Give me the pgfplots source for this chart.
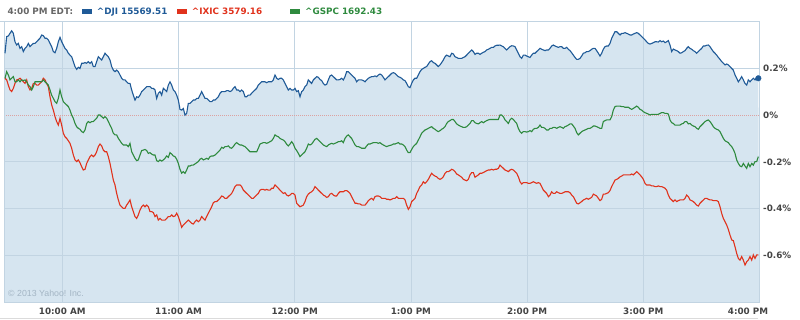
\documentclass[border=0pt]{standalone}
\usepackage{pgfplots}
\pgfplotsset{compat=1.18}
\usepackage{pgfplotstable}
\usepackage{fontspec}
\setmainfont{DejaVu Sans}
\newfontfamily\arialfont{Liberation Sans}
\definecolor{djic}{HTML}{1F5A97}
\definecolor{ixicc}{HTML}{E0321C}
\definecolor{gspcc}{HTML}{2E8A3E}
\definecolor{fillc}{HTML}{D6E5F0}
\definecolor{gridc}{HTML}{C2D4E2}
\definecolor{zeroc}{HTML}{DCA2A2}
\definecolor{hdrgray}{HTML}{666666}
\definecolor{lblc}{HTML}{444444}
\definecolor{copyc}{HTML}{A3B5C4}

% percent change vs previous close, one sample every ~0.86 min from 9:30
\pgfplotstableread[row sep=\\]{y\\
0.264\\0.335\\0.338\\0.349\\0.360\\0.349\\0.313\\0.299\\0.306\\0.285\\0.292\\0.271\\0.285\\0.292\\0.306\\0.292\\0.299\\0.306\\0.306\\0.313\\
0.321\\0.328\\0.342\\0.339\\0.328\\0.328\\0.321\\0.306\\0.292\\0.271\\0.266\\0.285\\0.313\\0.332\\0.313\\0.299\\0.285\\0.278\\0.264\\0.256\\
0.249\\0.228\\0.207\\0.195\\0.204\\0.199\\0.221\\0.221\\0.224\\0.221\\0.228\\0.221\\0.228\\0.207\\0.207\\0.228\\0.249\\0.242\\0.235\\0.249\\
0.264\\0.256\\0.249\\0.235\\0.207\\0.192\\0.185\\0.192\\0.185\\0.171\\0.157\\0.150\\
0.150\\0.142\\0.135\\0.135\\0.107\\0.085\\0.064\\0.078\\0.075\\0.085\\0.100\\0.107\\0.114\\0.121\\0.121\\0.121\\0.114\\0.114\\0.107\\0.071\\
0.093\\0.100\\0.085\\0.114\\0.107\\0.100\\0.128\\0.142\\0.128\\0.107\\0.100\\0.085\\0.064\\0.024\\0.021\\0.028\\0.000\\0.007\\0.050\\0.050\\
0.057\\0.064\\0.064\\0.071\\0.071\\0.085\\0.100\\0.085\\0.071\\0.071\\0.064\\0.057\\0.057\\0.064\\0.064\\0.071\\0.078\\0.093\\0.100\\0.100\\
0.100\\0.104\\0.104\\0.100\\0.104\\0.114\\0.121\\0.107\\0.107\\0.100\\0.107\\0.100\\0.078\\0.078\\0.085\\
0.085\\0.093\\0.100\\0.107\\0.114\\0.128\\0.135\\0.142\\0.142\\0.142\\0.138\\0.142\\0.142\\0.142\\0.150\\0.171\\0.157\\0.152\\0.157\\0.157\\
0.150\\0.135\\0.121\\0.107\\0.114\\0.107\\0.107\\0.114\\0.100\\0.104\\0.078\\0.100\\0.107\\0.121\\0.128\\0.150\\0.142\\0.135\\0.150\\0.157\\
0.164\\0.161\\0.152\\0.147\\0.135\\0.128\\0.131\\0.150\\0.167\\0.171\\0.164\\0.157\\0.150\\0.150\\0.152\\0.157\\0.150\\0.164\\0.185\\0.185\\
0.178\\0.171\\0.164\\0.157\\0.142\\0.150\\0.150\\0.150\\0.147\\0.142\\0.150\\0.157\\0.161\\0.164\\0.164\\
0.167\\0.164\\0.171\\0.175\\0.171\\0.161\\0.150\\0.157\\0.164\\0.171\\0.178\\0.181\\0.178\\0.171\\0.164\\0.161\\0.157\\0.150\\0.147\\0.135\\
0.121\\0.117\\0.135\\0.150\\0.157\\0.157\\0.171\\0.185\\0.195\\0.199\\0.204\\0.207\\0.218\\0.228\\0.232\\0.224\\0.221\\0.214\\0.207\\0.214\\
0.224\\0.235\\0.249\\0.256\\0.252\\0.249\\0.264\\0.261\\0.249\\0.246\\0.242\\0.242\\0.242\\0.246\\0.249\\0.256\\0.264\\0.271\\0.278\\0.271\\
0.259\\0.264\\0.264\\0.259\\0.264\\0.268\\0.271\\0.278\\0.281\\0.285\\0.289\\0.289\\0.295\\0.298\\0.298\\
0.299\\0.295\\0.292\\0.285\\0.278\\0.285\\0.292\\0.296\\0.295\\0.292\\0.278\\0.264\\0.249\\0.242\\0.256\\0.256\\0.252\\0.249\\0.246\\0.256\\
0.264\\0.264\\0.271\\0.278\\0.285\\0.281\\0.278\\0.275\\0.278\\0.278\\0.285\\0.295\\0.299\\0.295\\0.292\\0.289\\0.292\\0.292\\0.285\\0.285\\
0.289\\0.281\\0.275\\0.266\\0.256\\0.246\\0.238\\0.238\\0.242\\0.252\\0.264\\0.266\\0.271\\0.271\\0.275\\0.281\\0.285\\0.285\\0.275\\0.264\\
0.252\\0.264\\0.281\\0.292\\0.295\\0.295\\0.306\\0.328\\0.342\\0.356\\0.356\\0.349\\0.342\\0.349\\0.349\\
0.352\\0.349\\0.346\\0.342\\0.342\\0.346\\0.349\\0.352\\0.349\\0.342\\0.335\\0.328\\0.321\\0.313\\0.306\\0.303\\0.306\\0.309\\0.313\\0.313\\
0.312\\0.318\\0.313\\0.316\\0.309\\0.313\\0.318\\0.299\\0.271\\0.282\\0.278\\0.275\\0.271\\0.264\\0.266\\0.271\\0.275\\0.285\\0.292\\0.285\\
0.281\\0.275\\0.271\\0.264\\0.271\\0.278\\0.285\\0.295\\0.295\\0.298\\0.299\\0.292\\0.281\\0.271\\0.264\\0.256\\0.246\\0.238\\0.228\\0.221\\
0.214\\0.218\\0.214\\0.207\\0.199\\0.192\\0.171\\0.157\\0.142\\0.152\\0.164\\0.150\\0.135\\0.128\\0.150\\0.142\\0.150\\0.157\\0.150\\0.161\\
0.157\\
}\djidata

\pgfplotstableread[row sep=\\]{y\\
0.157\\0.185\\0.171\\0.150\\0.157\\0.164\\0.142\\0.142\\0.150\\0.142\\0.150\\0.147\\0.150\\0.142\\0.128\\0.121\\0.107\\0.121\\0.142\\0.142\\
0.142\\0.142\\0.142\\0.150\\0.142\\0.135\\0.128\\0.107\\0.085\\0.071\\0.057\\0.050\\0.071\\0.107\\0.078\\0.057\\0.050\\0.043\\0.036\\0.021\\
0.000\\-0.014\\-0.036\\-0.050\\-0.057\\-0.061\\-0.071\\-0.075\\-0.064\\-0.036\\-0.028\\-0.033\\-0.028\\-0.028\\-0.021\\-0.014\\0.000\\0.000\\-0.007\\-0.014\\
-0.007\\-0.014\\-0.028\\-0.043\\-0.057\\-0.078\\-0.085\\-0.085\\-0.100\\-0.110\\-0.121\\-0.128\\
-0.128\\-0.128\\-0.135\\-0.121\\-0.157\\-0.171\\-0.185\\-0.195\\-0.192\\-0.171\\-0.152\\-0.150\\-0.147\\-0.152\\-0.164\\-0.161\\-0.167\\-0.171\\-0.171\\-0.195\\
-0.199\\-0.192\\-0.197\\-0.192\\-0.185\\-0.175\\-0.181\\-0.161\\-0.167\\-0.175\\-0.178\\-0.189\\-0.207\\-0.232\\-0.249\\-0.242\\-0.249\\-0.235\\-0.218\\-0.218\\
-0.214\\-0.214\\-0.209\\-0.204\\-0.199\\-0.189\\-0.185\\-0.192\\-0.189\\-0.185\\-0.189\\-0.178\\-0.175\\-0.175\\-0.171\\-0.164\\-0.157\\-0.150\\-0.138\\-0.142\\
-0.135\\-0.135\\-0.132\\-0.140\\-0.142\\-0.135\\-0.124\\-0.118\\-0.124\\-0.128\\-0.128\\-0.132\\-0.135\\-0.142\\-0.150\\
-0.157\\-0.157\\-0.157\\-0.157\\-0.157\\-0.142\\-0.124\\-0.121\\-0.118\\-0.118\\-0.121\\-0.118\\-0.114\\-0.110\\-0.100\\-0.085\\-0.090\\-0.093\\-0.100\\-0.104\\
-0.107\\-0.114\\-0.125\\-0.132\\-0.124\\-0.114\\-0.124\\-0.142\\-0.152\\-0.164\\-0.178\\-0.171\\-0.164\\-0.157\\-0.142\\-0.124\\-0.128\\-0.124\\-0.114\\-0.104\\
-0.100\\-0.107\\-0.114\\-0.121\\-0.128\\-0.132\\-0.135\\-0.128\\-0.124\\-0.121\\-0.124\\-0.121\\-0.118\\-0.114\\-0.114\\-0.110\\-0.118\\-0.100\\-0.090\\-0.085\\
-0.093\\-0.100\\-0.114\\-0.128\\-0.135\\-0.135\\-0.138\\-0.142\\-0.142\\-0.142\\-0.132\\-0.124\\-0.124\\-0.121\\-0.118\\
-0.118\\-0.118\\-0.121\\-0.118\\-0.124\\-0.128\\-0.132\\-0.135\\-0.132\\-0.130\\-0.128\\-0.124\\-0.124\\-0.121\\-0.118\\-0.124\\-0.124\\-0.128\\-0.135\\-0.150\\
-0.161\\-0.161\\-0.147\\-0.135\\-0.128\\-0.121\\-0.107\\-0.093\\-0.078\\-0.071\\-0.064\\-0.061\\-0.057\\-0.053\\-0.050\\-0.057\\-0.061\\-0.067\\-0.071\\-0.067\\
-0.061\\-0.057\\-0.050\\-0.036\\-0.028\\-0.024\\-0.019\\-0.019\\-0.028\\-0.038\\-0.043\\-0.047\\-0.050\\-0.053\\-0.053\\-0.050\\-0.043\\-0.036\\-0.024\\-0.024\\
-0.033\\-0.036\\-0.038\\-0.033\\-0.028\\-0.033\\-0.028\\-0.024\\-0.021\\-0.019\\-0.019\\-0.019\\-0.019\\-0.019\\-0.019\\
0.000\\0.000\\-0.007\\-0.021\\-0.028\\-0.036\\-0.021\\-0.014\\-0.019\\-0.028\\-0.036\\-0.057\\-0.071\\-0.078\\-0.071\\-0.071\\-0.073\\-0.071\\-0.067\\-0.071\\
-0.061\\-0.057\\-0.057\\-0.053\\-0.043\\-0.053\\-0.053\\-0.057\\-0.064\\-0.064\\-0.057\\-0.057\\-0.053\\-0.053\\-0.057\\-0.053\\-0.050\\-0.053\\-0.057\\-0.050\\
-0.047\\-0.043\\-0.038\\-0.038\\-0.047\\-0.057\\-0.075\\-0.085\\-0.078\\-0.071\\-0.067\\-0.064\\-0.061\\-0.057\\-0.057\\-0.053\\-0.047\\-0.047\\-0.050\\-0.053\\
-0.057\\-0.057\\-0.028\\-0.024\\-0.021\\-0.021\\-0.021\\-0.007\\0.021\\0.036\\0.038\\0.038\\0.038\\0.036\\0.036\\
0.033\\0.033\\0.033\\0.028\\0.024\\0.028\\0.033\\0.038\\0.033\\0.024\\0.021\\0.014\\0.010\\0.007\\0.004\\0.000\\0.003\\0.003\\0.003\\0.003\\
0.003\\0.007\\0.010\\0.010\\0.007\\0.007\\0.004\\-0.021\\-0.033\\-0.036\\-0.043\\-0.043\\-0.043\\-0.043\\-0.038\\-0.036\\-0.028\\-0.028\\-0.038\\-0.036\\
-0.043\\-0.047\\-0.050\\-0.057\\-0.061\\-0.050\\-0.043\\-0.036\\-0.028\\-0.024\\-0.021\\-0.028\\-0.038\\-0.050\\-0.057\\-0.061\\-0.064\\-0.071\\-0.085\\-0.100\\
-0.110\\-0.114\\-0.118\\-0.128\\-0.135\\-0.147\\-0.164\\-0.192\\-0.207\\-0.218\\-0.221\\-0.207\\-0.218\\-0.228\\-0.207\\-0.221\\-0.207\\-0.214\\-0.199\\-0.199\\
-0.178\\
}\gspcdata

\pgfplotstableread[row sep=\\]{y\\
0.157\\0.150\\0.128\\0.107\\0.100\\0.114\\0.135\\0.150\\0.152\\0.157\\0.150\\0.142\\0.135\\0.150\\0.121\\0.107\\0.114\\0.135\\0.135\\0.128\\
0.128\\0.135\\0.142\\0.157\\0.150\\0.135\\0.121\\0.078\\0.043\\0.021\\-0.007\\-0.028\\-0.043\\-0.014\\-0.043\\-0.078\\-0.093\\-0.100\\-0.110\\-0.121\\
-0.142\\-0.171\\-0.192\\-0.199\\-0.192\\-0.204\\-0.221\\-0.235\\-0.232\\-0.207\\-0.192\\-0.178\\-0.171\\-0.178\\-0.171\\-0.157\\-0.135\\-0.124\\-0.132\\-0.150\\
-0.157\\-0.157\\-0.178\\-0.207\\-0.242\\-0.278\\-0.299\\-0.335\\-0.363\\-0.385\\-0.392\\-0.399\\
-0.399\\-0.385\\-0.375\\-0.363\\-0.392\\-0.413\\-0.434\\-0.442\\-0.427\\-0.406\\-0.392\\-0.385\\-0.392\\-0.385\\-0.392\\-0.413\\-0.413\\-0.417\\-0.434\\-0.427\\
-0.449\\-0.442\\-0.449\\-0.449\\-0.449\\-0.442\\-0.434\\-0.434\\-0.427\\-0.434\\-0.432\\-0.420\\-0.434\\-0.456\\-0.480\\-0.470\\-0.463\\-0.456\\-0.449\\-0.456\\
-0.463\\-0.466\\-0.456\\-0.449\\-0.456\\-0.449\\-0.434\\-0.442\\-0.449\\-0.434\\-0.420\\-0.406\\-0.392\\-0.375\\-0.370\\-0.370\\-0.363\\-0.356\\-0.346\\-0.349\\
-0.356\\-0.356\\-0.349\\-0.342\\-0.335\\-0.321\\-0.306\\-0.299\\-0.299\\-0.299\\-0.306\\-0.321\\-0.328\\-0.335\\-0.342\\
-0.349\\-0.356\\-0.356\\-0.349\\-0.342\\-0.335\\-0.321\\-0.318\\-0.318\\-0.321\\-0.318\\-0.321\\-0.321\\-0.313\\-0.313\\-0.299\\-0.306\\-0.313\\-0.321\\-0.328\\
-0.335\\-0.332\\-0.342\\-0.346\\-0.342\\-0.335\\-0.335\\-0.342\\-0.377\\-0.385\\-0.392\\-0.389\\-0.385\\-0.370\\-0.349\\-0.338\\-0.332\\-0.328\\-0.321\\-0.306\\
-0.313\\-0.321\\-0.328\\-0.335\\-0.342\\-0.346\\-0.352\\-0.349\\-0.338\\-0.335\\-0.342\\-0.346\\-0.346\\-0.335\\-0.328\\-0.328\\-0.328\\-0.323\\-0.323\\-0.328\\
-0.335\\-0.349\\-0.363\\-0.377\\-0.377\\-0.380\\-0.380\\-0.385\\-0.385\\-0.385\\-0.377\\-0.366\\-0.360\\-0.356\\-0.363\\
-0.349\\-0.346\\-0.346\\-0.349\\-0.356\\-0.356\\-0.356\\-0.360\\-0.360\\-0.363\\-0.360\\-0.356\\-0.356\\-0.349\\-0.356\\-0.356\\-0.356\\-0.356\\-0.363\\-0.385\\
-0.403\\-0.392\\-0.370\\-0.363\\-0.356\\-0.335\\-0.321\\-0.306\\-0.299\\-0.285\\-0.292\\-0.285\\-0.275\\-0.261\\-0.249\\-0.256\\-0.261\\-0.264\\-0.271\\-0.275\\
-0.271\\-0.264\\-0.249\\-0.242\\-0.242\\-0.238\\-0.232\\-0.235\\-0.242\\-0.252\\-0.256\\-0.261\\-0.266\\-0.275\\-0.278\\-0.281\\-0.275\\-0.256\\-0.246\\-0.246\\
-0.266\\-0.261\\-0.256\\-0.249\\-0.249\\-0.246\\-0.242\\-0.238\\-0.235\\-0.235\\-0.232\\-0.235\\-0.232\\-0.232\\-0.228\\
-0.214\\-0.221\\-0.228\\-0.235\\-0.238\\-0.242\\-0.235\\-0.232\\-0.235\\-0.242\\-0.249\\-0.264\\-0.285\\-0.295\\-0.289\\-0.289\\-0.289\\-0.292\\-0.292\\-0.289\\
-0.285\\-0.289\\-0.292\\-0.289\\-0.292\\-0.306\\-0.321\\-0.328\\-0.335\\-0.349\\-0.342\\-0.328\\-0.335\\-0.335\\-0.328\\-0.332\\-0.335\\-0.335\\-0.332\\-0.328\\
-0.328\\-0.328\\-0.332\\-0.342\\-0.349\\-0.363\\-0.377\\-0.380\\-0.375\\-0.370\\-0.363\\-0.360\\-0.356\\-0.360\\-0.356\\-0.352\\-0.338\\-0.342\\-0.346\\-0.356\\
-0.366\\-0.360\\-0.338\\-0.338\\-0.335\\-0.332\\-0.323\\-0.306\\-0.292\\-0.278\\-0.275\\-0.271\\-0.264\\-0.261\\-0.256\\
-0.256\\-0.256\\-0.256\\-0.256\\-0.252\\-0.256\\-0.249\\-0.242\\-0.249\\-0.256\\-0.264\\-0.275\\-0.292\\-0.299\\-0.299\\-0.299\\-0.303\\-0.303\\-0.306\\-0.306\\
-0.303\\-0.306\\-0.306\\-0.309\\-0.313\\-0.321\\-0.342\\-0.356\\-0.363\\-0.370\\-0.363\\-0.370\\-0.366\\-0.363\\-0.363\\-0.363\\-0.356\\-0.342\\-0.349\\-0.363\\
-0.366\\-0.370\\-0.377\\-0.385\\-0.389\\-0.377\\-0.370\\-0.363\\-0.356\\-0.356\\-0.360\\-0.363\\-0.363\\-0.366\\-0.366\\-0.366\\-0.370\\-0.392\\-0.420\\-0.442\\
-0.456\\-0.470\\-0.489\\-0.513\\-0.534\\-0.537\\-0.563\\-0.591\\-0.613\\-0.620\\-0.605\\-0.620\\-0.641\\-0.627\\-0.620\\-0.605\\-0.620\\-0.598\\-0.613\\-0.598\\
-0.598\\
}\ixicdata

\begin{document}
\begin{tikzpicture}[x=1pt,y=1pt]
\begin{axis}[
  at={(4.2pt,16.8pt)}, anchor=south west,
  scale only axis, width=755.3pt, height=280.8pt,
  set layers,
  xmin=-0.48, xmax=452.7, ymin=-0.8, ymax=0.4,
  axis line style={gridc, line width=0.8pt},
  major tick length=0pt,
  grid=major, grid style={gridc, line width=0.8pt},
  xtick={34.38,104.10,173.82,243.54,313.26,382.98},
  xticklabels={10:00 AM,11:00 AM,12:00 PM,1:00 PM,2:00 PM,3:00 PM},
  extra x ticks={452.7},
  extra x tick labels={4:00 PM},
  extra x tick style={tick label style={anchor=east, xshift=-11.5pt}},
  xticklabel style={font=\fontsize{8.8}{10}\selectfont\bfseries, text=lblc, anchor=center, yshift=-9pt},
  ytick={-0.6,-0.4,-0.2,0.2},
  yticklabels={-0.6\%,-0.4\%,-0.2\%,0.2\%},
  extra y ticks={0},
  extra y tick labels={0\%},
  extra y tick style={grid style={zeroc, dash pattern=on 1pt off 1pt, line width=1pt}},
  yticklabel pos=right,
  yticklabel style={font=\fontsize{8.8}{10}\selectfont\bfseries, text=lblc, anchor=west, inner sep=0pt, xshift=3.5pt},
]
\addplot[fill=fillc, draw=none, on layer=axis background, forget plot] table[x expr=\coordindex, y=y]{\djidata}
  -- (rel axis cs:1,0) -- (rel axis cs:0,0) -- cycle;
\addplot[djic, line width=1.1pt] table[x expr=\coordindex, y=y]{\djidata};
\addplot[ixicc, line width=1.1pt] table[x expr=\coordindex, y=y]{\ixicdata};
\addplot[gspcc, line width=1.1pt] table[x expr=\coordindex, y=y]{\gspcdata};
\addplot[only marks, mark=*, mark size=2.8pt, djic] coordinates {(452,0.157)};
\end{axis}
\draw[gridc, line width=0.8pt] (0,297.6) -- (760,297.6);
\draw[black!14, line width=1pt] (0,0.5) -- (758,0.5);
\node[anchor=base west, inner sep=0, font=\fontsize{8.8}{10}\selectfont\bfseries, text=hdrgray] at (7.3,304) {4:00 PM EDT:};
\fill[djic] (81.7,304.5) rectangle (91.7,310);
\node[anchor=base west, inner sep=0, font=\fontsize{8.8}{10}\selectfont\bfseries, text=djic] at (96.7,304) {\textasciicircum DJI 15569.51};
\fill[ixicc] (176.7,304.5) rectangle (186.7,310);
\node[anchor=base west, inner sep=0, font=\fontsize{8.8}{10}\selectfont\bfseries, text=ixicc] at (191.7,304) {\textasciicircum IXIC 3579.16};
\fill[gspcc] (290,304.5) rectangle (300,310);
\node[anchor=base west, inner sep=0, font=\fontsize{8.8}{10}\selectfont\bfseries, text=gspcc] at (305,304) {\textasciicircum GSPC 1692.43};
\node[anchor=base west, inner sep=0, font=\arialfont\fontsize{8.8}{10}\selectfont, text=copyc] at (8,22.5) {\textcopyright{} 2013 Yahoo! Inc.};
\pgfresetboundingbox
\useasboundingbox (0,0) rectangle (800,319);
\end{tikzpicture}
\end{document}
